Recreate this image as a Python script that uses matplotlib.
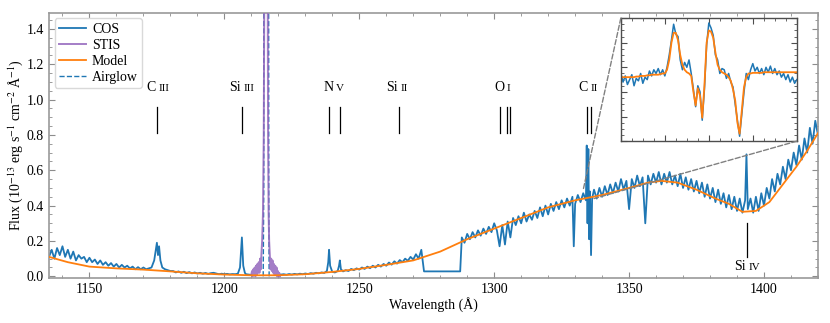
import numpy as np
import matplotlib
matplotlib.use("Agg")
import matplotlib.pyplot as plt
from matplotlib.ticker import MultipleLocator
from matplotlib.patches import ConnectionPatch
from matplotlib import transforms

plt.rcParams['font.family'] = ['Liberation Serif', 'DejaVu Serif']
plt.rcParams['mathtext.fontset'] = 'stix'
plt.rcParams['font.size'] = 10

# ---- COS spectrum ----
cos_wave = ([1135, 1136, 1137, 1138, 1139, 1140, 1141, 1142, 1143, 1144, 1145, 1146, 1147, 1148,
             1149, 1150, 1151, 1152, 1153, 1154, 1155, 1156, 1157, 1158, 1159, 1160, 1161, 1162,
             1163, 1164, 1165, 1166, 1167, 1168, 1169, 1170, 1171, 1172, 1173, 1174, 1174.6,
             1175, 1175.4, 1175.8, 1176.3, 1177, 1178, 1179, 1180]
            + list(range(1181, 1205))
            + [1205, 1205.8, 1206.5, 1207, 1207.6, 1208, 1209, 1210, 1210.5]
            + list(range(1221, 1238))
            + [1238, 1238.5, 1238.8, 1239.2, 1240, 1241, 1242, 1242.5, 1242.8, 1243.2, 1244]
            + list(range(1245, 1274))
            + [1274, 1287.4]
            + list(range(1288, 1302))
            + [1302, 1303, 1304, 1305, 1306, 1307, 1308, 1309, 1310, 1311, 1312, 1313, 1314, 1315,
               1316, 1317, 1318, 1319, 1320, 1321, 1322, 1323, 1324, 1325, 1326, 1327, 1328, 1329,
               1329.5, 1330, 1331, 1332, 1333, 1334, 1334.3, 1334.6, 1334.9, 1335.2, 1335.5,
               1335.9, 1336.3]
            + list(range(1337, 1393))
            + [1393, 1393.5, 1394]
            + list(range(1395, 1421)))
cos_flux = ([.11, .15, .10, .16, .12, .17, .11, .15, .10, .14, .09, .12, .10, .11,
             .08, .105, .08, .095, .07, .09, .065, .08, .06, .075, .055, .07, .05, .065,
             .05, .06, .045, .055, .04, .052, .04, .05, .04, .045, .05, .09, .15,
             .19, .12, .17, .09, .05, .04, .035, .03]
            + [.03, .022, .028, .02, .026, .018, .024, .017, .022, .016, .02, .015, .019, .014,
               .018, .02, .016, .012, .015, .012, .014, .011, .013, .012]
            + [.015, .05, .22, .06, .02, .012, .01, .008, np.nan]
            + [.01, .012, .009, .013, .01, .014, .011, .015, .012, .016, .013, .018, .015, .02,
               .017, .022, .019]
            + [.03, .08, .15, .06, .025, .022, .03, .06, .09, .04, .028]
            + [.035, .03, .042, .035, .045, .038, .05, .042, .055, .046, .06, .05, .065, .055,
               .07, .06, .078, .066, .085, .072, .092, .08, .10, .088, .11, .095, .125, .10, .15]
            + [.028, .028]
            + [.22, .19, .24, .21, .25, .22, .26, .23, .27, .24, .28, .25, .30, .26]
            + [.17, .29, .18, .31, .22, .33, .29, .34, .30, .36, .31, .35, .32, .37,
               .33, .39, .34, .40, .35, .41, .37, .42, .38, .43, .39, .44, .40, .45,
               .17, .41, .46, .42, .47, .43, .74, .30, .72, .21, .48,
               .12, .44]
            + [.49, .44, .50, .45, .51, .46, .52, .47, .53, .48, .55, .49, .54, .38,
               .55, .50, .57, .51, .56, .30, .57, .52, .58, .53, .59, .52, .58, .53,
               .59, .52, .57, .51, .58, .50, .56, .49, .55, .48, .54, .47, .53, .45,
               .52, .44, .50, .42, .49, .41, .47, .39, .46, .38, .45, .37, .44, .36]
            + [.43, .69, .38]
            + [.44, .36, .45, .37, .47, .40, .50, .44, .55, .48, .58, .52, .62, .55,
               .66, .60, .70, .63, .74, .66, .78, .70, .84, .75, .88, .80])

# ---- STIS around Lyman alpha ----
stis_wave = [1210.0, 1210.25, 1210.5, 1210.75, 1211.0, 1211.25, 1211.5, 1211.75, 1212.0,
             1212.25, 1212.5, 1212.75, 1213.0, 1213.25, 1213.5, 1213.75, 1214.0,
             1214.3, 1214.6, 1214.9, 1215.2, 1215.5, 1215.8, 1216.0, 1216.2, 1216.4,
             1216.6, 1216.85, 1217.1, 1217.35, 1217.6, 1217.85, 1218.1, 1218.35, 1218.6,
             1218.85, 1219.1, 1219.35, 1219.6, 1219.85, 1220.1, 1220.35, 1220.6]
stis_flux = [0.01, 0.03, 0.0, 0.04, 0.01, 0.05, 0.0, 0.06, 0.01, 0.07, 0.02, 0.08, 0.02,
             0.10, 0.04, 0.13, 0.2,
             0.35, 0.8, 2.0, 4.0, 6.0, 4.0, 2.0, 0.8, 0.35,
             0.2, 0.12, 0.04, 0.1, 0.03, 0.09, 0.02, 0.07, 0.01, 0.06, 0.01, 0.05, 0.0,
             0.03, 0.0, 0.02, 0.0]

# ---- airglow ----
air_wave = [1214.4, 1214.6, 1214.75, 1215.5, 1216.3, 1216.45, 1216.6]
air_flux = [0.0, 0.5, 6.0, 10.0, 6.0, 0.5, 0.0]

# ---- model ----
model_wave = [1135, 1142, 1150, 1160, 1170, 1180, 1190, 1200, 1210, 1220, 1230, 1240, 1250,
              1260, 1270, 1280, 1290, 1300, 1310, 1320, 1330, 1340, 1350, 1357, 1362, 1368,
              1375, 1382, 1387, 1392, 1397, 1402, 1407, 1412, 1416, 1420]
model_flux = [0.11, 0.08, 0.055, 0.045, 0.038, 0.028, 0.017, 0.01, 0.006, 0.006, 0.012, 0.025,
              0.042, 0.065, 0.09, 0.14, 0.21, 0.27, 0.33, 0.39, 0.43, 0.46, 0.50, 0.53, 0.54,
              0.53, 0.49, 0.44, 0.41, 0.365, 0.37, 0.42, 0.52, 0.62, 0.71, 0.81]

# ---- ion labels ----
ion_names = ["C", "Si", "N", "Si", "O", "C"]
ion_stages = ["III", "III", "V", "II", "I", "II"]
ion_label_x = [1175.0, 1206.5, 1240.8, 1264.7, 1304.1, 1335.1]
ion_lines = [[1175.0], [1206.5], [1238.8, 1242.8], [1264.7], [1302.2, 1304.9, 1306.0],
             [1334.5, 1335.7]]
siiv_x = 1393.8

# ---- inset (C II region) ----
inset_wave = np.arange(1333.0, 1337.001, 0.05)
inset_data = [.55, .48, .53, .46, .50, .54, .45, .51, .49, .55, .47, .52, .50, .57, .53, .58,
              .55, .59, .54, .58, .53, .60, .70, .82, .95, .87, .85, .66, .58, .64, .60, .66,
              .55, .42, .28, .45, .40, .17, .42, .78, .96, .92, .86, .70, .66, .55, .59, .58,
              .51, .55, .48, .44, .30, .17, .04, .22, .40, .55, .50, .58, .63, .57, .60, .55,
              .59, .54, .60, .56, .61, .55, .59, .54, .57, .52, .55, .50, .54, .48, .52, .47,
              .50]
inset_model = [.52, .52, .52, .52, .52, .52, .52, .525, .525, .53, .53, .53, .535, .535, .54,
               .54, .54, .54, .545, .55, .55, .58, .66, .80, .88, .88, .82, .70, .62, .58, .56,
               .55, .53, .40, .29, .43, .37, .19, .45, .80, .90, .89, .84, .72, .62, .58, .56,
               .55, .54, .52, .49, .42, .33, .15, .06, .25, .44, .52, .55, .55, .555, .555,
               .555, .555, .555, .56, .56, .56, .56, .56, .56, .56, .56, .56, .56, .56, .56,
               .56, .56, .56, .56]
zoom_box = (1333.0, 1337.0, 0.44, 0.49)

cos_c = '#1f77b4'
mod_c = '#ff7f0e'
stis_c = '#9467bd'

fig = plt.figure(figsize=(8.3, 3.23), dpi=100)
ax = fig.add_axes([0.059, 0.139, 0.9265, 0.821])

ax.plot(cos_wave, cos_flux, color=cos_c, lw=1.3, label='COS', zorder=2)
ax.plot(stis_wave, stis_flux, color=stis_c, lw=1.4, alpha=0.85, label='STIS', zorder=3)
ax.plot(model_wave, model_flux, color=mod_c, lw=1.3, label='Model', zorder=4)
ax.plot(air_wave, air_flux, color=cos_c, lw=1.0, ls='--', label='Airglow', zorder=2.5)

ax.set_xlim(1135, 1420)
ax.set_ylim(-0.01, 1.49)
ax.xaxis.set_major_locator(MultipleLocator(50))
ax.xaxis.set_minor_locator(MultipleLocator(10))
ax.yaxis.set_major_locator(MultipleLocator(0.2))
ax.yaxis.set_minor_locator(MultipleLocator(0.05))
ax.tick_params(which='both', direction='in', top=True, right=True, color='0.55')
ax.tick_params(which='major', length=4)
ax.tick_params(which='minor', length=2)
for s in ax.spines.values():
    s.set_color('0.6')
    s.set_linewidth(1.2)
ax.set_xlabel('Wavelength (Å)', labelpad=1)
ax.set_ylabel(r'Flux (10$^{-13}$ erg s$^{-1}$ cm$^{-2}$ Å$^{-1}$)', labelpad=1)

# ion labels: element name plus smaller roman numeral
def ion_label(x, y, name, stage):
    tr_l = transforms.offset_copy(ax.transData, fig=fig, x=-0.8, y=0.0, units='points')
    tr_r = transforms.offset_copy(ax.transData, fig=fig, x=1.2, y=-0.6, units='points')
    ax.text(x, y, name, ha='right', va='center', fontsize=10, transform=tr_l)
    ax.text(x, y, stage, ha='left', va='center', fontsize=8, transform=tr_r)

for name, stage, lx, lines in zip(ion_names, ion_stages, ion_label_x, ion_lines):
    ion_label(lx, 1.07, name, stage)
    for lw_ in lines:
        ax.plot([lw_, lw_], [0.81, 0.96], color='k', lw=0.9)
ion_label(siiv_x, 0.057, "Si", "IV")
ax.plot([siiv_x, siiv_x], [0.11, 0.30], color='k', lw=0.9)

leg = ax.legend(loc='upper left', fontsize=10, labelspacing=0.22, handlelength=2.0,
                handletextpad=0.4, borderpad=0.3, borderaxespad=0.4,
                fancybox=True, framealpha=1.0, edgecolor='0.85')

# inset
ins = fig.add_axes([0.748, 0.563, 0.212, 0.381])
ins.plot(inset_wave, inset_data, color=cos_c, lw=1.1)
ins.plot(inset_wave, inset_model, color=mod_c, lw=1.3)
ins.set_xlim(1333.0, 1337.0)
ins.set_ylim(0.0, 1.0)
ins.set_xticklabels([])
ins.set_yticklabels([])
ins.xaxis.set_major_locator(MultipleLocator(1.0))
ins.xaxis.set_minor_locator(MultipleLocator(0.25))
ins.yaxis.set_major_locator(MultipleLocator(0.2))
ins.yaxis.set_minor_locator(MultipleLocator(0.05))
ins.tick_params(which='both', direction='in', top=True, right=True, color='0.3')
ins.tick_params(which='major', length=4)
ins.tick_params(which='minor', length=2)
for s in ins.spines.values():
    s.set_color('0.3')
    s.set_linewidth(1.0)

con1 = ConnectionPatch(xyA=(0, 1), coordsA=ins.transAxes,
                       xyB=(zoom_box[0], zoom_box[3]), coordsB=ax.transData,
                       color='0.5', ls='--', lw=1.0, zorder=6)
con2 = ConnectionPatch(xyA=(1, 0), coordsA=ins.transAxes,
                       xyB=(zoom_box[1], zoom_box[2]), coordsB=ax.transData,
                       color='0.5', ls='--', lw=1.0, zorder=6)
fig.add_artist(con1)
fig.add_artist(con2)

fig.savefig('out.png', dpi=100)
